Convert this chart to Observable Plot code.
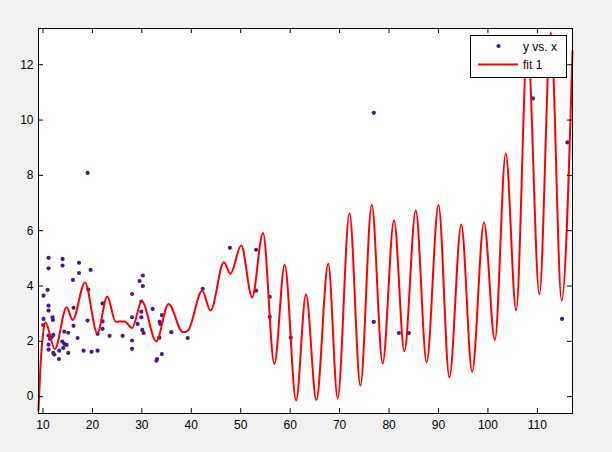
<!DOCTYPE html>
<html><head><meta charset="utf-8">
<script src="https://cdn.jsdelivr.net/npm/d3@7"></script>
<script src="https://cdn.jsdelivr.net/npm/@observablehq/plot@0.6"></script>
<style>
html,body{margin:0;padding:0;background:#f0f0f0;}
#wrap{position:relative;width:612px;height:452px;overflow:hidden;}
#wrap svg.plot{position:absolute;left:0;top:0;background:transparent;}
#legend{position:absolute;left:470px;top:35px;}
</style></head><body><div id="wrap"></div>
<script>
// scatter data: "y vs. x"
const dataX = [10.12,10.12,10.06,10.93,11.13,11.13,11.13,11.13,11.13,11.13,11.13,11.74,11.42,11.94,12.02,12.09,12.09,12.29,13.24,13.30,13.91,14.31,14.11,14.78,15.12,14.31,15.12,13.97,13.97,16.19,16.07,16.19,17.00,17.29,17.29,18.22,19.03,19.17,19.64,19.84,21.05,21.05,22.06,22.06,22.06,23.48,26.11,28.02,28.02,28.02,28.02,29.15,29.55,30.20,30.20,29.90,29.90,29.90,30.10,30.36,32.19,32.94,33.08,34.05,33.60,33.74,34.05,33.54,35.97,39.27,42.31,47.81,53.12,53.12,55.87,55.87,60.12,76.92,76.92,81.98,84.01,109.1,116.07,114.98,19.03];
const dataY = [3.65,2.81,2.59,3.86,5.02,4.64,3.29,3.11,2.21,1.88,1.70,2.14,2.09,2.87,2.77,2.23,1.58,1.52,1.36,1.66,1.99,1.91,1.76,1.87,1.58,2.35,2.31,4.98,4.74,2.56,4.22,3.21,2.12,4.84,4.47,1.66,2.75,3.87,4.58,1.62,1.66,2.27,3.37,2.72,2.45,2.20,2.20,3.71,2.87,2.03,1.73,2.63,4.18,4.38,4.00,3.44,3.07,2.87,2.41,2.30,3.17,1.30,1.36,1.54,2.71,2.63,2.95,2.13,2.33,2.12,3.90,5.38,5.31,3.83,3.61,2.88,2.13,10.26,2.70,2.30,2.30,10.78,9.19,2.81,8.09];

// fitted curve: "fit 1" (read points: ends, peaks, troughs)
const fitX = [9.1,9.6,10.0,10.5,12.4,14.8,16.0,18.5,21.0,23.0,24.7,26.5,28.0,30.0,32.9,35.4,38.3,39.3,42.2,43.9,46.6,47.9,50.1,52.3,54.5,56.8,58.9,61.2,63.2,65.3,67.7,69.6,72.0,74.2,76.5,78.7,81.0,83.1,85.4,87.6,90.0,92.2,94.6,96.8,99.2,101.4,103.6,105.7,108.0,110.4,112.7,114.9,117.1];
const fitY = [-0.5,1.4,2.25,2.69,1.72,3.23,2.77,4.13,2.29,3.62,2.71,2.72,2.48,3.45,2.0,3.35,2.33,2.38,3.83,3.11,4.86,4.44,5.46,3.59,5.92,1.18,4.77,-0.14,3.69,-0.12,4.80,-0.06,6.63,0.40,6.94,1.20,6.37,1.64,6.73,1.24,6.93,0.70,6.22,0.90,6.30,2.05,8.79,3.12,12.8,3.70,13.17,3.47,12.5];

const xTicks = [10,20,30,40,50,60,70,80,90,100,110];
const yTicks = [0,2,4,6,8,10,12];
const xDomain = [9.1, 117.1];
const yDomain = [-0.61, 13.31];
const seriesNames = ["y vs. x", "fit 1"];

const pts = dataX.map((x,i)=>({x, y:dataY[i]}));
const fit = fitX.map((x,i)=>({x, y:fitY[i]}));

const W = 612, H = 452, ML = 38, MR = 40, MT = 28, MB = 39;
const PW = W-ML-MR, PH = H-MT-MB, TL = 5;
const dotColor = "#4a1890", lineColor = "#ff0000";

const chart = Plot.plot({
  width: W, height: H,
  marginLeft: ML, marginRight: MR, marginTop: MT, marginBottom: MB,
  style: {fontFamily: "'Liberation Sans', Arial, sans-serif", fontSize: "12px", color: "black", background: "transparent"},
  x: {domain: xDomain, ticks: xTicks},
  y: {domain: yDomain, ticks: yTicks},
  marks: [
    Plot.frame({fill: "white", stroke: null}),
    Plot.dot(pts, {x:"x", y:"y", symbol:"circle", r:2.1, fill: dotColor, stroke: null}),
    Plot.line(fit, {x:"x", y:"y", stroke: lineColor, strokeWidth: 2, curve: "monotone-x"}),
    // inward ticks on all four sides
    Plot.ruleX(xTicks, {x: d=>d, insetTop: PH-TL, stroke:"black"}),
    Plot.ruleX(xTicks, {x: d=>d, insetBottom: PH-TL, stroke:"black"}),
    Plot.ruleY(yTicks, {y: d=>d, insetRight: PW-TL, stroke:"black"}),
    Plot.ruleY(yTicks, {y: d=>d, insetLeft: PW-TL, stroke:"black"}),
    Plot.axisX(xTicks, {tickSize: 0, tickPadding: 7, label: null, fill:"black", fontSize: 12}),
    Plot.axisY(yTicks, {tickSize: 0, tickPadding: 5, label: null, fill:"black", fontSize: 12}),
    Plot.frame({stroke: "black", strokeWidth: 1})
  ]
});
chart.classList.add("plot");
const wrap = document.getElementById("wrap");
wrap.appendChild(chart);

// legend box inside axes (top-right), as in the original
const lw = 96, lh = 42;
const leg = d3.create("svg").attr("id","legend").attr("width", lw+1).attr("height", lh+1)
  .style("font-family","'Liberation Sans', Arial, sans-serif").style("font-size","12px");
leg.append("rect").attr("x",0.5).attr("y",0.5).attr("width",lw).attr("height",lh).attr("fill","white").attr("stroke","black");
leg.append("circle").attr("cx",28.5).attr("cy",11).attr("r",2.1).attr("fill",dotColor);
leg.append("text").attr("x",53).attr("y",15.5).text(seriesNames[0]);
leg.append("line").attr("x1",8).attr("x2",48).attr("y1",29.5).attr("y2",29.5).attr("stroke",lineColor).attr("stroke-width",2);
leg.append("text").attr("x",53).attr("y",33.5).text(seriesNames[1]);
wrap.appendChild(leg.node());
</script>
</body></html>
